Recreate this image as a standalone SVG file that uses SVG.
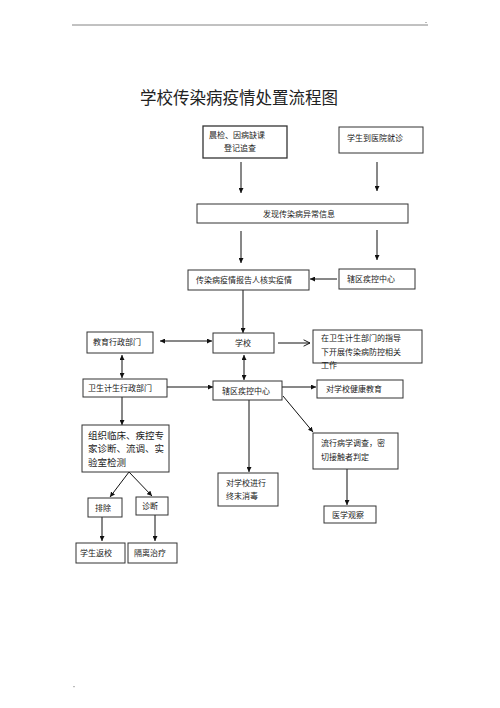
<svg xmlns="http://www.w3.org/2000/svg" width="500" height="708" viewBox="0 0 500 708">
<defs>
<marker id="ah" viewBox="0 0 10 10" refX="10" refY="5" markerWidth="5" markerHeight="5" markerUnits="userSpaceOnUse" orient="auto-start-reverse">
<path d="M0,0 L10,5 L0,10 z" fill="#111"/>
</marker>
<marker id="open" viewBox="0 0 10 10" refX="9" refY="5" markerWidth="8" markerHeight="8" markerUnits="userSpaceOnUse" orient="auto">
<path d="M1,1 L9,5 L1,9" fill="none" stroke="#111" stroke-width="1.2"/>
</marker>
</defs>
<style>
rect.b{fill:#fff;stroke:#333;stroke-width:1}
text{font-family:"Noto Sans CJK SC","Noto Sans CJK JP",sans-serif;font-size:8px;fill:#222}
.c line{stroke:#111;stroke-width:1}
.a{marker-end:url(#ah)}
.d{marker-start:url(#ah);marker-end:url(#ah)}
</style>
<rect width="500" height="708" fill="#fff"/>
<line x1="72" y1="25" x2="428" y2="25" stroke="#666" stroke-width="0.8"/>
<rect x="425" y="22" width="2" height="1" fill="#bbb"/>
<rect x="73" y="686" width="2" height="1.2" fill="#bbb"/>
<text x="140" y="104" style="font-size:16.5px">学校传染病疫情处置流程图</text>

<g class="c">
<line class="a" x1="241" y1="162" x2="241" y2="193"/>
<line class="a" x1="377" y1="162" x2="377" y2="191"/>
<line class="a" x1="241" y1="231" x2="241" y2="263"/>
<line class="a" x1="377" y1="230" x2="377" y2="260"/>
<line class="a" x1="337" y1="279" x2="310" y2="279"/>
<line class="a" x1="243" y1="290" x2="243" y2="333"/>
<line class="d" x1="160" y1="341" x2="212" y2="341"/>
<line x1="278" y1="343" x2="310" y2="343" marker-end="url(#open)"/>
<line class="d" x1="122" y1="355" x2="122" y2="378"/>
<line class="d" x1="244" y1="355" x2="244" y2="380"/>
<line class="a" x1="167" y1="387" x2="213" y2="387"/>
<line class="a" x1="282" y1="387" x2="316" y2="387"/>
<line class="a" x1="283" y1="396" x2="313" y2="432"/>
<line class="a" x1="122" y1="397" x2="122" y2="425"/>
<line class="a" x1="129" y1="472" x2="110" y2="497"/>
<line class="a" x1="129" y1="472" x2="152" y2="496"/>
<line class="a" x1="102" y1="517" x2="102" y2="541"/>
<line class="a" x1="155" y1="515" x2="155" y2="541"/>
<line class="a" x1="249" y1="400" x2="249" y2="472"/>
<line class="a" x1="347" y1="469" x2="347" y2="505"/>
</g>

<g id="n1"><rect class="b" x="203" y="126" width="84" height="32" style="stroke-width:1.3"/><text x="209" y="138">晨检、因病缺课</text><text x="224" y="151">登记追查</text></g>
<g id="n2"><rect class="b" x="339" y="127" width="84" height="26"/><text x="347" y="141">学生到医院就诊</text></g>
<g id="n3"><rect class="b" x="197" y="204" width="211" height="19"/><text x="263" y="217">发现传染病异常信息</text></g>
<g id="n4"><rect class="b" x="188" y="270" width="121" height="20"/><text x="196" y="283">传染病疫情报告人核实疫情</text></g>
<g id="n5"><rect class="b" x="339" y="269" width="76" height="20"/><text x="347" y="282">辖区疾控中心</text></g>
<g id="n6"><rect class="b" x="87" y="332" width="66" height="21"/><text x="93" y="345">教育行政部门</text></g>
<g id="n7"><rect class="b" x="213" y="333" width="61" height="20"/><text x="243" y="346" text-anchor="middle">学校</text></g>
<g id="n8"><rect class="b" x="313" y="330" width="109" height="33"/><text x="321" y="341">在卫生计生部门的指导</text><text x="321" y="355">下开展传染病防控相关</text><text x="321" y="368">工作</text></g>
<g id="n9"><rect class="b" x="83" y="379" width="84" height="18"/><text x="88" y="391">卫生计生行政部门</text></g>
<g id="n10"><rect class="b" x="213" y="381" width="69" height="19"/><text x="222" y="394">辖区疾控中心</text></g>
<g id="n11"><rect class="b" x="317" y="380" width="86" height="18"/><text x="326" y="392">对学校健康教育</text></g>
<g id="n12"><rect class="b" x="82" y="425" width="87" height="47"/><text x="88" y="439" style="font-size:9.5px">组织临床、疾控专</text><text x="88" y="452" style="font-size:9.5px">家诊断、流调、实</text><text x="88" y="466" style="font-size:9.5px">验室检测</text></g>
<g id="n13"><rect class="b" x="88" y="498" width="34" height="19"/><text x="95" y="511">排除</text></g>
<g id="n14"><rect class="b" x="136" y="497" width="32" height="18"/><text x="142" y="509">诊断</text></g>
<g id="n15"><rect class="b" x="76" y="543" width="49" height="20"/><text x="80" y="556">学生返校</text></g>
<g id="n16"><rect class="b" x="128" y="543" width="49" height="20"/><text x="134" y="556">隔离治疗</text></g>
<g id="n17"><rect class="b" x="218" y="473" width="60" height="33"/><text x="226" y="486">对学校进行</text><text x="226" y="499">终末消毒</text></g>
<g id="n18"><rect class="b" x="313" y="433" width="85" height="36"/><text x="321" y="446">流行病学调查，密</text><text x="321" y="460">切接触者判定</text></g>
<g id="n19"><rect class="b" x="324" y="506" width="52" height="17"/><text x="332" y="518">医学观察</text></g>
</svg>
